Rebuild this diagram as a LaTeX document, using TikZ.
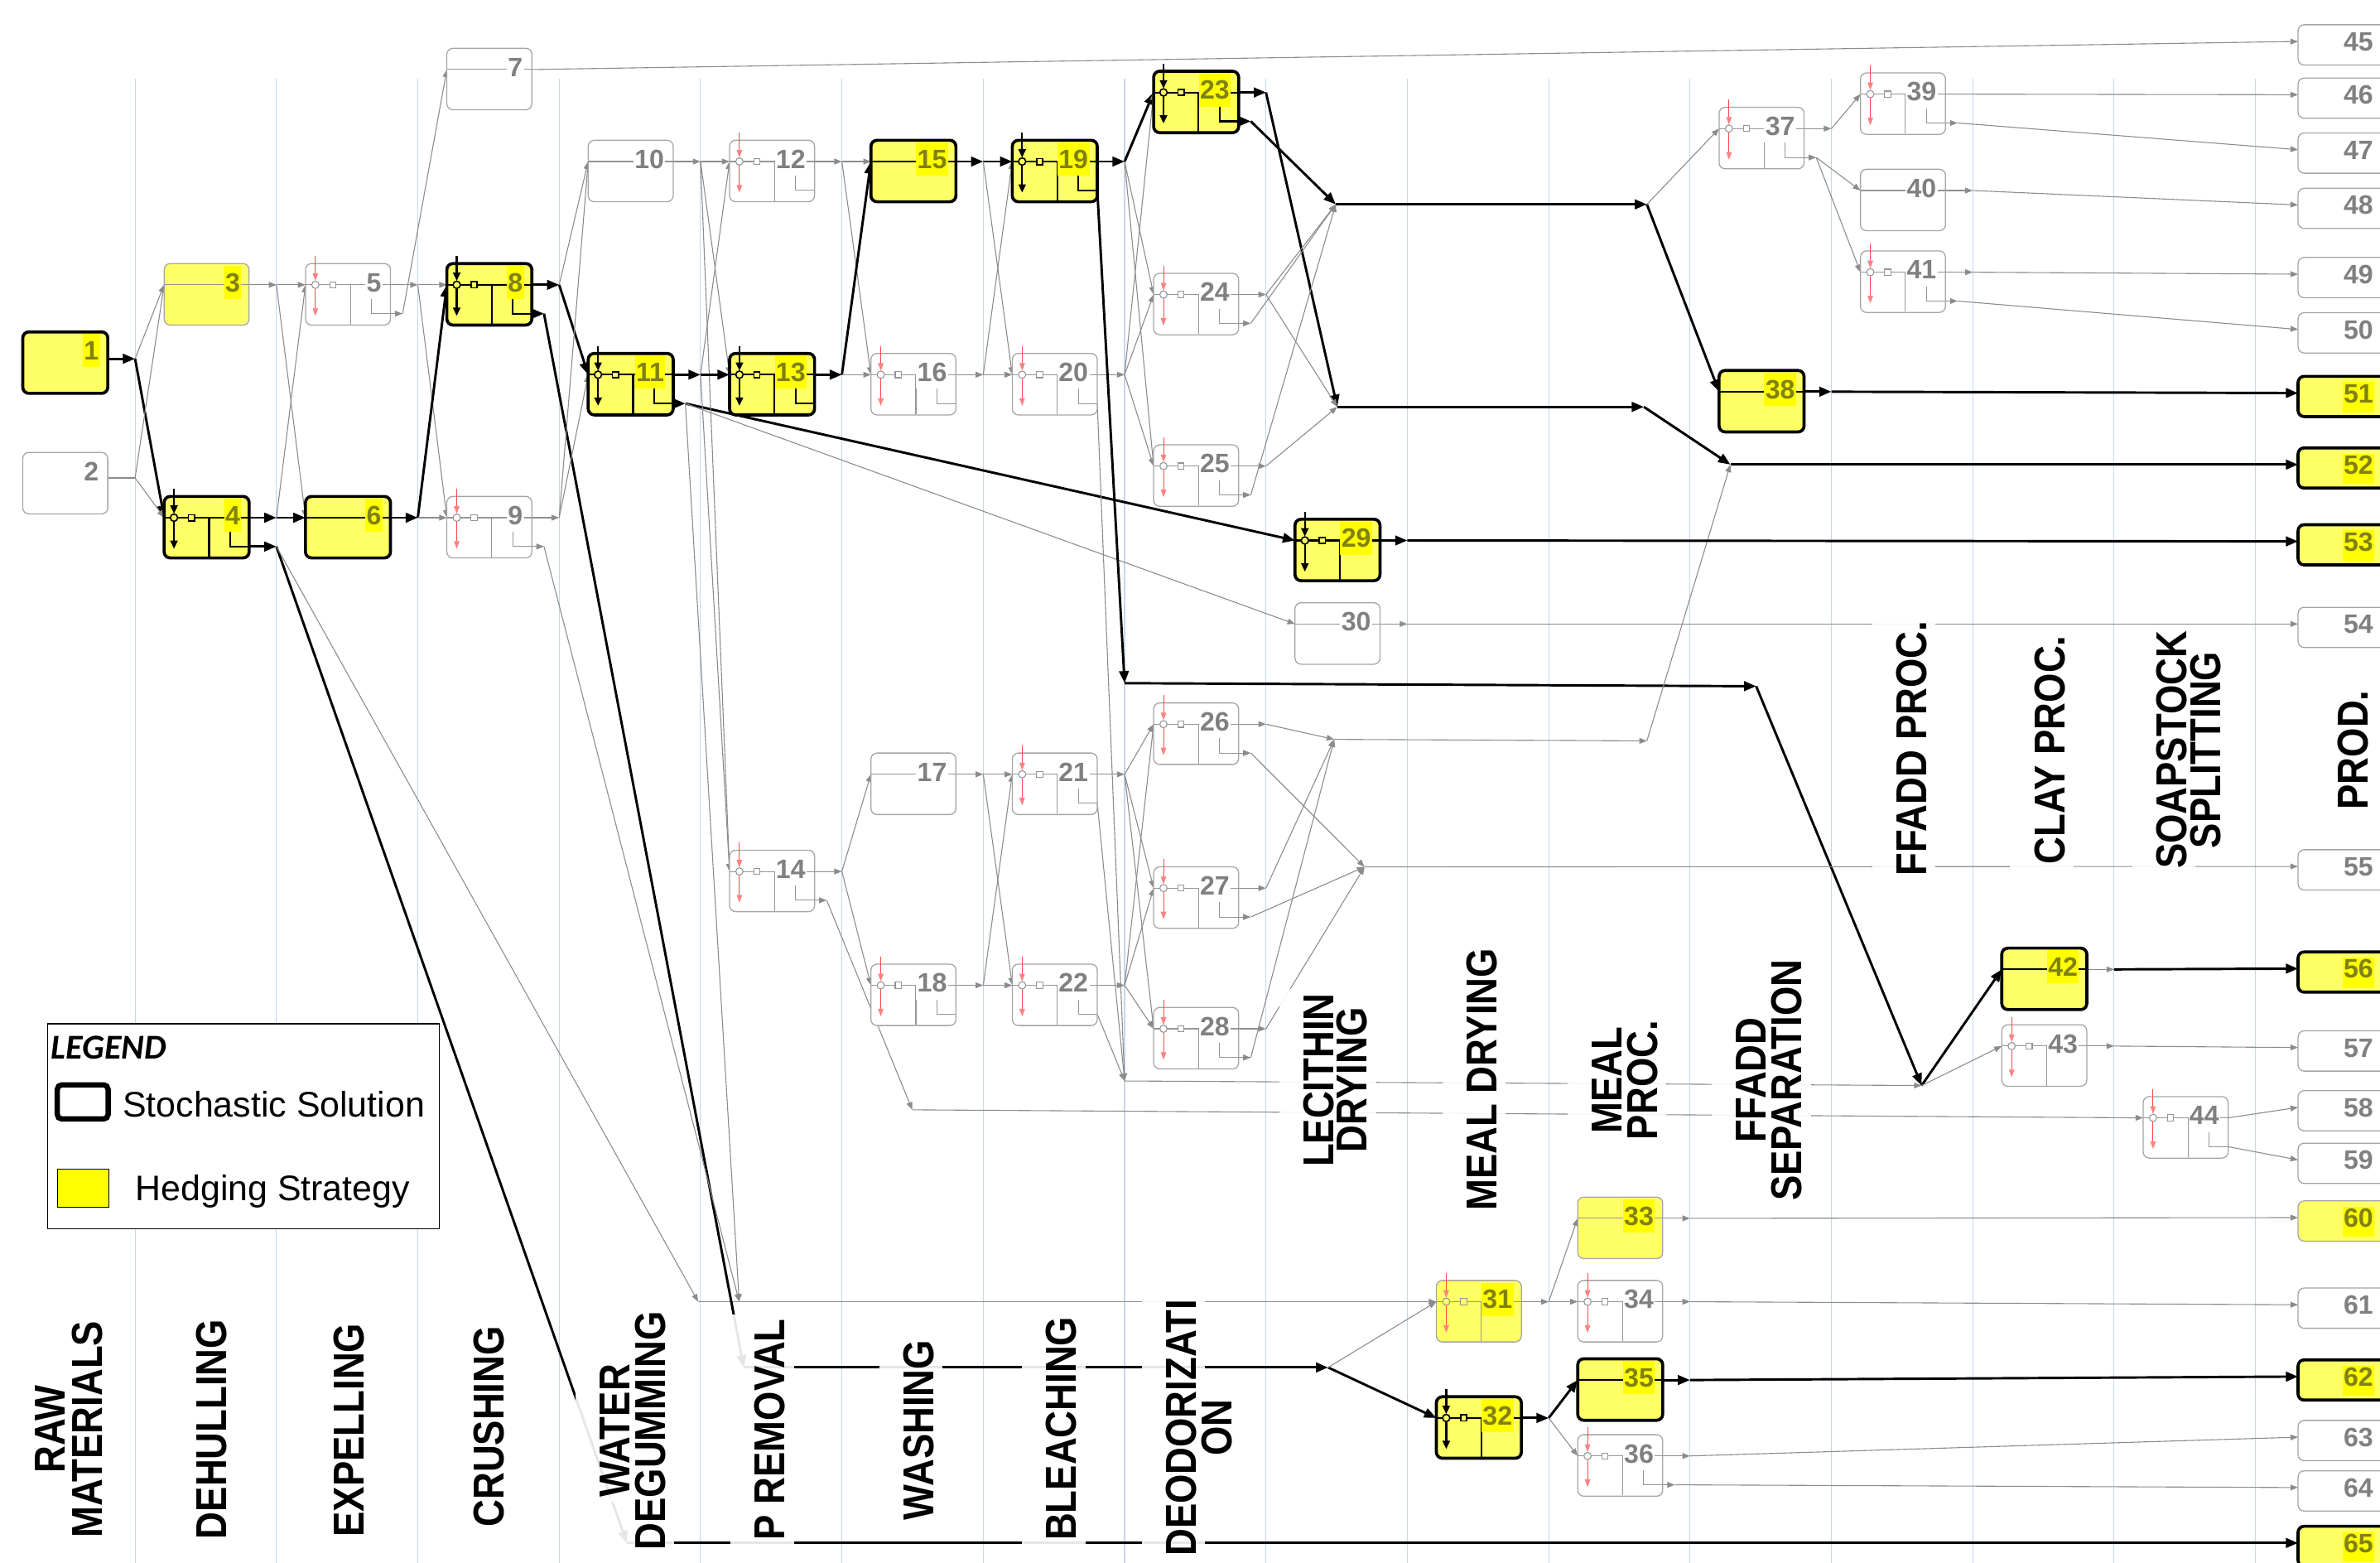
\documentclass[tikz,border=0pt]{standalone}
\usepackage{fontspec}
\setmainfont{Liberation Sans}
\newfontfamily\carlito{Carlito}
\usepackage{graphicx}
\usetikzlibrary{arrows.meta}
\pgfdeclarelayer{grid}
\pgfdeclarelayer{bg}
\pgfsetlayers{grid,bg,main}
\definecolor{byel}{RGB}{255,255,102}
\definecolor{hlyel}{RGB}{255,255,0}
\definecolor{numol}{RGB}{128,128,20}
\definecolor{numgray}{RGB}{128,128,128}
\definecolor{bgray}{RGB}{165,165,165}
\definecolor{cgray}{RGB}{140,140,140}
\definecolor{ggray}{RGB}{150,150,150}
\definecolor{gridc}{RGB}{198,214,238}
\definecolor{redl}{RGB}{255,70,70}
\definecolor{redt}{RGB}{255,130,130}
\tikzset{
 boxbase/.style={rounded corners=4pt, minimum width=56pt, minimum height=40.5pt, inner sep=0pt, outer sep=0pt, anchor=north west},
 bS/.style={boxbase, draw=black, line width=2pt, fill=byel},
 bH/.style={boxbase, draw=bgray, line width=0.7pt, fill=byel},
 bP/.style={boxbase, draw=bgray, line width=0.7pt, fill=white},
 prod/.style={minimum width=62pt, minimum height=26.5pt},
 numbase/.style={anchor=base east, font=\fontsize{17.5}{17.5}\selectfont\bfseries, inner xsep=0.8pt, inner ysep=0pt, text height=17pt, text depth=4.8pt},
 numS/.style={numbase, text=numol, fill=hlyel},
 numP/.style={numbase, text=numgray, fill=white},
 gS/.style={gline/.style={draw=black, line width=1.2pt},
   garrow/.style={draw=black, line width=1.2pt, -{Triangle[length=5.5pt,width=4.8pt]}},
   gcirc/.style={draw=black, line width=0.9pt, fill=byel}},
 gP/.style={gline/.style={draw=ggray, line width=0.6pt},
   garrow/.style={draw=redl, line width=0.5pt, -{Triangle[length=5pt,width=3.6pt,color=redt]}},
   gcirc/.style={draw=ggray, line width=0.6pt, fill=white}},
 gH/.style={gP, gcirc/.style={draw=ggray, line width=0.6pt, fill=byel}},
 sol/.style={draw=black, line width=1.6pt, -{Triangle[length=8pt,width=6.3pt]}},
 soln/.style={draw=black, line width=1.6pt},
 alt/.style={draw=cgray, line width=0.6pt, -{Triangle[length=5pt,width=3.8pt]}},
 altn/.style={draw=cgray, line width=0.6pt},
 stg/.style={rotate=90, font=\fontsize{28.5}{28.5}\selectfont\bfseries, fill=white, fill opacity=0.9, text opacity=1, inner xsep=3pt, inner ysep=3pt, text height=32.8pt, text depth=2.9pt},
}
\newcommand\gGlyph[2]{%
  \draw[gline] (#1,#2+14) -- (#1+56,#2+14);
  \draw[gline] (#1+29.6,#2+14) -- (#1+29.6,#2+40);
  \draw[garrow] (#1+6.5,#2-5) -- (#1+6.5,#2+11.4);
  \draw[garrow] (#1+6.5,#2+16.6) -- (#1+6.5,#2+34.5);
  \draw[gcirc] (#1+6.5,#2+14) circle (2.4);
  \draw[gcirc] (#1+16,#2+12) rectangle (#1+20,#2+16);}
\newcommand\gL[2]{\draw[gline] (#1+43.5,#2+22) -- (#1+43.5,#2+33) -- (#1+56,#2+33);}
% name, left, top, boxstyle, glyphstyle, kind (G,g,P,N), number, numstyle
\newcommand\Nd[8]{%
  \node[#4] (#1) at (#2,#3) {};
  \coordinate (#1-in) at (#2,#3+14);
  \coordinate (#1-out) at (#2+56,#3+14);
  \coordinate (#1-secs) at (#2+56,#3+33);
  \coordinate (#1-sec) at (#2+64,#3+33);
  \begin{scope}[#5]
  \ifx G#6 \gGlyph{#2}{#3}\gL{#2}{#3}\fi
  \ifx g#6 \gGlyph{#2}{#3}\fi
  \ifx P#6 \draw[gline] (#2,#3+14) -- (#2+56,#3+14);\fi
  \end{scope}
  \node[#8] (#1-num) at (#2+51,#3+18.5) {#7};}
% name, arrow y, boxstyle, number, numstyle
\newcommand\Pd[5]{%
  \node[#3, prod] (#1) at (1514,#2-11) {};
  \coordinate (#1-in) at (1514,#2);
  \node[#5, text height=13.5pt, text depth=6.5pt] (#1-num) at (1564.5,#2+6.3) {#4};}
\newcommand\stglist{%
 \stgone{sRaw}{32.7}{941.5}{RAW}%
 \stgone{sMat}{57}{941.5}{MATERIALS}%
 \stgone{sDeh}{138.8}{941.4}{DEHULLING}%
 \stgone{sExp}{229.6}{942}{EXPELLING}%
 \stgone{sCru}{322}{939.7}{CRUSHING}%
 \stgone{sWat}{405}{942.5}{WATER}%
 \stgone{sDeg}{428}{942.5}{DEGUMMING}%
 \stgone{sPre}{507}{941.5}{P REMOVAL}%
 \stgone{sWas}{605}{942}{WASHING}%
 \stgone{sBle}{699}{941}{BLEACHING}%
 \stgone{sDeo}{778}{940.5}{DEODORIZATI}%
 \stgone{sOn}{801.5}{940.5}{ON}%
 \stgone{sLec}{868.5}{711.5}{LECITHIN}%
 \stgone{sDry}{890.5}{711.5}{DRYING}%
 \stgone{sMdr}{976}{711}{MEAL DRYING}%
 \stgone{sMea}{1058.5}{711.5}{MEAL}%
 \stgone{sPro}{1081.7}{711.5}{PROC.}%
 \stgone{sFfa}{1153.5}{711.5}{FFADD}%
 \stgone{sSep}{1177}{711.5}{SEPARATION}%
 \stgone{sFpr}{1259}{493}{FFADD PROC.}%
 \stgone{sCla}{1350}{494}{CLAY PROC.}%
 \stgone{sSoa}{1430.5}{494}{SOAPSTOCK}%
 \stgone{sSpl}{1453}{494}{SPLITTING}%
 \stgone{sPrd}{1550}{494}{PROD.}%
}
\begin{document}
\begin{tikzpicture}[x=1pt,y=-1pt]
\path[use as bounding box] (0,0) rectangle (1568,1029.5);
\clip (0,0) rectangle (1568,1029.5);
\begin{pgfonlayer}{grid}
\foreach \k in {0,...,15} {\draw[gridc, line width=0.6pt] ({89+93.13*\k},52) -- ({89+93.13*\k},1030);}
\end{pgfonlayer}

% ---------------- nodes ----------------
\Nd{n1}{15}{218.6}{bS}{gS}{N}{1}{numS}
\coordinate (n1-out) at (71,236.3);
\Nd{n2}{15}{298}{bP}{gP}{N}{2}{numP}
\coordinate (n2-out) at (71,314.8);
\Nd{n3}{108.13}{173.6}{bH}{gP}{P}{3}{numS}
\Nd{n4}{108.13}{327}{bS}{gS}{G}{4}{numS}
\coordinate (n4-sec) at (182.13,360);
\Nd{n5}{201.26}{173.6}{bP}{gP}{G}{5}{numP}
\Nd{n6}{201.26}{327}{bS}{gS}{P}{6}{numS}
\Nd{n7}{294.39}{31.8}{bP}{gP}{P}{7}{numP}
\Nd{n8}{294.39}{173.6}{bS}{gS}{G}{8}{numS}
\Nd{n9}{294.39}{327}{bP}{gP}{G}{9}{numP}
\Nd{n10}{387.52}{92.4}{bP}{gP}{P}{10}{numP}
\Nd{n11}{387.52}{232.8}{bS}{gS}{G}{11}{numS}
\Nd{n12}{480.65}{92.4}{bP}{gP}{G}{12}{numP}
\Nd{n13}{480.65}{232.8}{bS}{gS}{G}{13}{numS}
\Nd{n14}{480.65}{560}{bP}{gP}{G}{14}{numP}
\Nd{n15}{573.78}{92.4}{bS}{gS}{P}{15}{numS}
\Nd{n16}{573.78}{232.8}{bP}{gP}{G}{16}{numP}
\Nd{n17}{573.78}{496}{bP}{gP}{P}{17}{numP}
\Nd{n18}{573.78}{635}{bP}{gP}{G}{18}{numP}
\Nd{n19}{666.91}{92.4}{bS}{gS}{G}{19}{numS}
\Nd{n20}{666.91}{232.8}{bP}{gP}{G}{20}{numP}
\Nd{n21}{666.91}{496}{bP}{gP}{G}{21}{numP}
\Nd{n22}{666.91}{635}{bP}{gP}{G}{22}{numP}
\Nd{n23}{760.04}{46.9}{bS}{gS}{G}{23}{numS}
\Nd{n24}{760.04}{180}{bP}{gP}{G}{24}{numP}
\Nd{n25}{760.04}{293}{bP}{gP}{G}{25}{numP}
\Nd{n26}{760.04}{463}{bP}{gP}{G}{26}{numP}
\Nd{n27}{760.04}{571}{bP}{gP}{G}{27}{numP}
\Nd{n28}{760.04}{663.6}{bP}{gP}{G}{28}{numP}
\Nd{n29}{853.17}{342}{bS}{gS}{g}{29}{numS}
\Nd{n30}{853.17}{397}{bP}{gP}{P}{30}{numP}
\Nd{n31}{946.3}{843.4}{bH}{gH}{g}{31}{numS}
\Nd{n32}{946.3}{920}{bS}{gS}{g}{32}{numS}
\Nd{n33}{1039.43}{788.5}{bH}{gP}{P}{33}{numS}
\Nd{n34}{1039.43}{843.4}{bP}{gP}{g}{34}{numP}
\Nd{n35}{1039.43}{895}{bS}{gS}{P}{35}{numS}
\Nd{n36}{1039.43}{945}{bP}{gP}{G}{36}{numP}
\Nd{n37}{1132.56}{70.7}{bP}{gP}{G}{37}{numP}
\Nd{n38}{1132.56}{244}{bS}{gS}{P}{38}{numS}
\Nd{n39}{1225.69}{48}{bP}{gP}{G}{39}{numP}
\Nd{n40}{1225.69}{111.5}{bP}{gP}{P}{40}{numP}
\Nd{n41}{1225.69}{165.3}{bP}{gP}{G}{41}{numP}
\Nd{n42}{1318.82}{624.5}{bS}{gS}{P}{42}{numS}
\Nd{n43}{1318.82}{675}{bP}{gP}{g}{43}{numP}
\Nd{n44}{1411.95}{722.3}{bP}{gP}{G}{44}{numP}

\Pd{n45}{27.3}{bP}{45}{numP}
\Pd{n46}{62.4}{bP}{46}{numP}
\Pd{n47}{98.6}{bP}{47}{numP}
\Pd{n48}{135}{bP}{48}{numP}
\Pd{n49}{180.6}{bP}{49}{numP}
\Pd{n50}{217}{bP}{50}{numP}
\Pd{n51}{258.9}{bS}{51}{numS}
\Pd{n52}{306}{bS}{52}{numS}
\Pd{n53}{356.6}{bS}{53}{numS}
\Pd{n54}{411}{bP}{54}{numP}
\Pd{n55}{570.7}{bP}{55}{numP}
\Pd{n56}{638}{bS}{56}{numS}
\Pd{n57}{690}{bP}{57}{numP}
\Pd{n58}{729.4}{bP}{58}{numP}
\Pd{n59}{764}{bP}{59}{numP}
\Pd{n60}{802}{bH}{60}{numS}
\Pd{n61}{859.4}{bP}{61}{numP}
\Pd{n62}{906.7}{bS}{62}{numS}
\Pd{n63}{946.6}{bP}{63}{numP}
\Pd{n64}{979.8}{bP}{64}{numP}
\Pd{n65}{1016.3}{bS}{65}{numS}

% ---------------- junctions ----------------
\coordinate (j1a) at (89,236.3); \coordinate (j1b) at (89,314.8);
\coordinate (j2a) at (182.13,187.6); \coordinate (j2b) at (182.13,341);
\coordinate (j3a) at (275.26,187.6); \coordinate (j3b) at (275.26,341);
\coordinate (j4a) at (368.39,187.6); \coordinate (j4b) at (368.39,341);
\coordinate (j5a) at (461.52,106.4); \coordinate (j5b) at (461.52,246.8);
\coordinate (j6a) at (554.65,106.4); \coordinate (j6b) at (554.65,246.8); \coordinate (j6c) at (554.65,574);
\coordinate (j7a) at (647.78,106.4); \coordinate (j7b) at (647.78,246.8); \coordinate (j7c) at (647.78,510); \coordinate (j7d) at (647.78,649);
\coordinate (j8a) at (740.91,106.4); \coordinate (j8b) at (740.91,246.8); \coordinate (j8c) at (740.91,510); \coordinate (j8d) at (740.91,649);
\coordinate (j9a) at (834.04,60.9); \coordinate (j9b) at (834.04,194); \coordinate (j9c) at (834.04,307);
\coordinate (j9d) at (834.04,477); \coordinate (j9e) at (834.04,585); \coordinate (j9f) at (834.04,677.6);
\coordinate (jU) at (880,134.6); \coordinate (jW) at (881,268); \coordinate (jU2) at (1085,134.6);
\coordinate (jW2) at (1083,268); \coordinate (jX) at (1140,306);
\coordinate (jA) at (879,487); \coordinate (jB) at (899,571); \coordinate (jA2) at (1085,488);
\coordinate (jF1) at (740.91,450); \coordinate (jF2) at (1157,452); \coordinate (jF3) at (1266,715);
\coordinate (jL) at (740.91,712);
\coordinate (j57) at (460,857.4); \coordinate (j57b) at (487,857.4);
\coordinate (j8p) at (490,900.7); \coordinate (jD) at (875,900.7);
\coordinate (j4w) at (413,1016.3);
\coordinate (j14) at (601,731);
\coordinate (j10a) at (927.17,356); \coordinate (j10b) at (927.17,411);
\coordinate (j11a) at (1020.3,857.4); \coordinate (j11b) at (1020.3,934);
\coordinate (j12a) at (1113.43,802.5); \coordinate (j12b) at (1113.43,857.4); \coordinate (j12c) at (1113.43,909); \coordinate (j12d) at (1113.43,959);
\coordinate (j13a) at (1206.56,84.7); \coordinate (j13b) at (1206.56,258);
\coordinate (j14a) at (1299.69,125.5); \coordinate (j14b) at (1299.69,179.3);
\coordinate (j15a) at (1392.82,638.5); \coordinate (j15b) at (1392.82,689);

% ---------------- connectors ----------------
\begin{pgfonlayer}{bg}
\draw[sol] (n1-out) -- (j1a); \draw[altn] (n2-out) -- (j1b);
\draw[sol] (j1a) -- (n4-in); \draw[alt] (j1a) -- (n3-in); \draw[alt] (j1b) -- (n3-in); \draw[alt] (j1b) -- (n4-in);
\draw[alt] (n3-out) -- (j2a); \draw[sol] (n4-out) -- (j2b); \draw[sol] (n4-secs) -- (n4-sec);
\draw[alt] (j2a) -- (n5-in); \draw[alt] (j2a) -- (n6-in); \draw[alt] (j2b) -- (n5-in); \draw[sol] (j2b) -- (n6-in);
\draw[sol] (n4-sec) -- (j4w); \draw[sol] (j4w) -- (n65-in);
\draw[alt] (n4-sec) -- (j57); \draw[alt] (j57) -- (n31-in);
\draw[alt] (n5-out) -- (j3a); \draw[sol] (n6-out) -- (j3b);
\draw[alt] (n5-secs) -- (n5-sec); \draw[alt] (n5-sec) -- (n7-in);
\draw[alt] (j3a) -- (n8-in); \draw[alt] (j3a) -- (n9-in); \draw[sol] (j3b) -- (n8-in); \draw[alt] (j3b) -- (n9-in);
\draw[sol] (n8-out) -- (j4a); \draw[alt] (n9-out) -- (j4b);
\draw[sol] (n8-secs) -- (n8-sec); \draw[sol] (n8-sec) -- (j8p); \draw[sol] (j8p) -- (jD);
\draw[sol] (jD) -- (n32-in); \draw[alt] (jD) -- (n31-in);
\draw[alt] (n9-secs) -- (n9-sec); \draw[alt] (n9-sec) -- (j57b);
\draw[alt] (j4a) -- (n10-in); \draw[sol] (j4a) -- (n11-in); \draw[alt] (j4b) -- (n10-in); \draw[alt] (j4b) -- (n11-in);
\draw[alt] (n7-out) -- (n45-in);
\draw[alt] (n10-out) -- (j5a); \draw[sol] (n11-out) -- (j5b);
\draw[sol] (n11-secs) -- (n11-sec); \draw[sol] (n11-sec) -- (n29-in); \draw[alt] (n11-sec) -- (n30-in); \draw[alt] (n11-sec) -- (j57b);
\draw[alt] (j5a) -- (n12-in); \draw[alt] (j5a) -- (n13-in); \draw[alt] (j5a) -- (n14-in);
\draw[alt] (j5b) -- (n12-in); \draw[sol] (j5b) -- (n13-in); \draw[alt] (j5b) -- (n14-in);
\draw[alt] (n12-out) -- (j6a); \draw[sol] (n13-out) -- (j6b); \draw[alt] (n14-out) -- (j6c);
\draw[alt] (n14-secs) -- (n14-sec); \draw[alt] (n14-sec) -- (j14); \draw[alt] (j14) -- (n44-in);
\draw[alt] (j6a) -- (n15-in); \draw[alt] (j6a) -- (n16-in); \draw[sol] (j6b) -- (n15-in); \draw[alt] (j6b) -- (n16-in);
\draw[alt] (j6c) -- (n17-in); \draw[alt] (j6c) -- (n18-in);
\draw[sol] (n15-out) -- (j7a); \draw[alt] (n16-out) -- (j7b); \draw[alt] (n17-out) -- (j7c); \draw[alt] (n18-out) -- (j7d);
\draw[sol] (j7a) -- (n19-in); \draw[alt] (j7a) -- (n20-in); \draw[alt] (j7b) -- (n19-in); \draw[alt] (j7b) -- (n20-in);
\draw[alt] (j7c) -- (n21-in); \draw[alt] (j7c) -- (n22-in); \draw[alt] (j7d) -- (n21-in); \draw[alt] (j7d) -- (n22-in);
\draw[sol] (n19-out) -- (j8a); \draw[alt] (n20-out) -- (j8b); \draw[alt] (n21-out) -- (j8c); \draw[alt] (n22-out) -- (j8d);
\draw[sol] (n19-secs) -- (jF1); \draw[sol] (jF1) -- (jF2); \draw[sol] (jF2) -- (jF3); \draw[sol] (jF3) -- (n42-in); \draw[alt] (jF3) -- (n43-in);
\draw[alt] (n20-secs) -- (jL); \draw[alt] (n21-secs) -- (jL); \draw[alt] (n22-secs) -- (jL); \draw[alt] (jL) -- (jF3);
\draw[sol] (j8a) -- (n23-in); \draw[alt] (j8a) -- (n24-in); \draw[alt] (j8a) -- (n25-in);
\draw[alt] (j8b) -- (n23-in); \draw[alt] (j8b) -- (n24-in); \draw[alt] (j8b) -- (n25-in);
\draw[alt] (j8c) -- (n26-in); \draw[alt] (j8c) -- (n27-in); \draw[alt] (j8c) -- (n28-in);
\draw[alt] (j8d) -- (n26-in); \draw[alt] (j8d) -- (n27-in); \draw[alt] (j8d) -- (n28-in);
\draw[sol] (n23-out) -- (j9a); \draw[sol] (n23-secs) -- (n23-sec); \draw[sol] (n23-sec) -- (jU); \draw[sol] (j9a) -- (jW);
\draw[alt] (n24-out) -- (j9b); \draw[alt] (n24-secs) -- (n24-sec); \draw[alt] (n25-out) -- (j9c); \draw[alt] (n25-secs) -- (n25-sec);
\draw[alt] (j9b) -- (jU); \draw[alt] (j9b) -- (jW); \draw[alt] (n24-sec) -- (jU); \draw[alt] (j9c) -- (jW); \draw[alt] (n25-sec) -- (jU);
\draw[alt] (n26-out) -- (j9d); \draw[alt] (n26-secs) -- (n26-sec); \draw[alt] (n27-out) -- (j9e); \draw[alt] (n27-secs) -- (n27-sec);
\draw[alt] (n28-out) -- (j9f); \draw[alt] (n28-secs) -- (n28-sec);
\draw[alt] (j9d) -- (jA); \draw[alt] (n26-sec) -- (jB); \draw[alt] (j9e) -- (jA); \draw[alt] (n27-sec) -- (jB);
\draw[alt] (j9f) -- (jB); \draw[alt] (n28-sec) -- (jA);
\draw[sol] (jU) -- (jU2); \draw[sol] (jU2) -- (n38-in); \draw[alt] (jU2) -- (n37-in);
\draw[sol] (jW) -- (jW2); \draw[sol] (jW2) -- (jX); \draw[sol] (jX) -- (n52-in);
\draw[alt] (jA) -- (jA2); \draw[alt] (jA2) -- (jX);
\draw[alt] (jB) -- (n55-in);
\draw[sol] (n29-out) -- (j10a); \draw[sol] (j10a) -- (n53-in);
\draw[alt] (n30-out) -- (j10b); \draw[alt] (j10b) -- (n54-in);
\draw[alt] (n31-out) -- (j11a); \draw[sol] (n32-out) -- (j11b);
\draw[alt] (j11a) -- (n33-in); \draw[alt] (j11a) -- (n34-in); \draw[sol] (j11b) -- (n35-in); \draw[alt] (j11b) -- (n36-in);
\draw[alt] (n33-out) -- (j12a); \draw[alt] (j12a) -- (n60-in);
\draw[alt] (n34-out) -- (j12b); \draw[alt] (j12b) -- (n61-in);
\draw[sol] (n35-out) -- (j12c); \draw[sol] (j12c) -- (n62-in);
\draw[alt] (n36-out) -- (j12d); \draw[alt] (j12d) -- (n63-in);
\draw[alt] (n36-secs) -- (n36-sec); \draw[alt] (n36-sec) -- (n64-in);
\draw[alt] (n37-out) -- (j13a); \draw[alt] (j13a) -- (n39-in);
\draw[alt] (n37-secs) -- (n37-sec); \draw[alt] (n37-sec) -- (n40-in); \draw[alt] (n37-sec) -- (n41-in);
\draw[sol] (n38-out) -- (j13b); \draw[sol] (j13b) -- (n51-in);
\draw[alt] (n39-out) -- (n46-in);
\draw[alt] (n39-secs) -- (n39-sec); \draw[alt] (n39-sec) -- (n47-in);
\draw[alt] (n40-out) -- (j14a); \draw[alt] (j14a) -- (n48-in);
\draw[alt] (n41-out) -- (j14b); \draw[alt] (j14b) -- (n49-in);
\draw[alt] (n41-secs) -- (n41-sec); \draw[alt] (n41-sec) -- (n50-in);
\draw[alt] (n42-out) -- (j15a); \draw[sol] (j15a) -- (n56-in);
\draw[alt] (n43-out) -- (j15b); \draw[alt] (j15b) -- (n57-in);
\draw[alt] (n44-out) -- (n58-in); \draw[alt] (n44-secs) -- (n59-in);
\end{pgfonlayer}

% ---------------- legend ----------------
\node[draw=black, fill=white, line width=0.8pt, minimum width=258pt, minimum height=135pt, anchor=north west, inner sep=0pt] (legend) at (31,674) {};
\node[anchor=base west, inner sep=0pt, font=\carlito\fontsize{23}{23}\selectfont\bfseries\itshape] (legT) at (33.4,697.5) {LEGEND};
\node[draw=black, line width=3.5pt, rounded corners=3pt, minimum width=33.5pt, minimum height=22.5pt, inner sep=0pt] (legS) at (54.5,725.8) {};
\node[draw=black, fill=hlyel, line width=0.6pt, minimum width=33.6pt, minimum height=25pt, inner sep=0pt] (legH) at (54.8,782.5) {};
\node[anchor=base west, inner sep=0pt, font=\fontsize{23.4}{24}\selectfont] (legSt) at (80.7,735.5) {Stochastic Solution};
\node[anchor=base west, inner sep=0pt, font=\fontsize{23.4}{24}\selectfont] (legHt) at (89,790.8) {Hedging Strategy};

% ---------------- stage labels ----------------
\def\stgone#1#2#3#4{\node[stg, text opacity=0] (#1-bg) at (#2-4.8,#3) {\scalebox{0.87}[1]{#4}};}
\stglist
\def\stgone#1#2#3#4{\node[stg, fill=none] (#1) at (#2-4.8,#3) {\scalebox{0.87}[1]{#4}};}
\stglist
\end{tikzpicture}
\end{document}
